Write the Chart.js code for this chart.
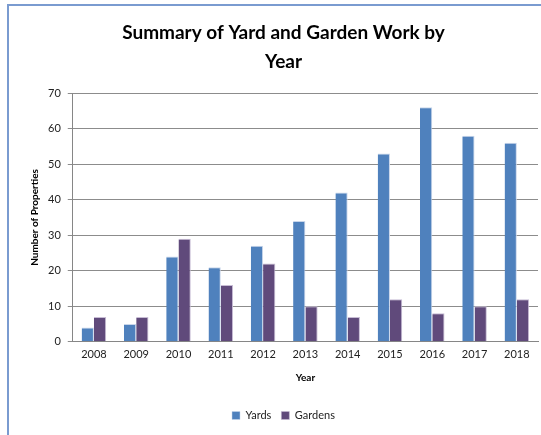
<!DOCTYPE html>
<html>
<head>
<meta charset="utf-8">
<script src="https://cdn.jsdelivr.net/npm/chart.js@4"></script>
<style>
  html, body { margin: 0; padding: 0; background: #fff; }
  #wrap { position: relative; width: 541px; height: 435px; overflow: hidden; }
  #frame { position: absolute; left: 7px; top: 4px; width: 560px; height: 460px; border: 2px solid #7a9bd0; box-sizing: border-box; }
  canvas { position: absolute; left: 0; top: 0; }
</style>
</head>
<body>
<div id="wrap">
  <div id="frame"></div>
  <canvas id="c" width="541" height="435"></canvas>
</div>
<script>
const years = ['2008','2009','2010','2011','2012','2013','2014','2015','2016','2017','2018']
const yards = [4,5,24,21,27,34,42,53,66,58,56]
const gardens = [7,7,29,16,22,10,7,12,8,10,12]

const FONT = 'Lato, "Open Sans", sans-serif'
Chart.defaults.font.family = FONT
Chart.defaults.color = '#222'

new Chart(document.getElementById('c'), {
  type: 'bar',
  data: {
    labels: years,
    datasets: [
      { label: 'Yards', data: yards, backgroundColor: '#4f81bd', borderColor: '#c9d6ea', borderWidth: { top: 1, right: 1, left: 0, bottom: 0 } },
      { label: 'Gardens', data: gardens, backgroundColor: '#604a7b', borderColor: '#c7bcd4', borderWidth: { top: 1, right: 1, left: 0, bottom: 0 } },
    ],
  },
  options: {
    responsive: false, animation: false,
    layout: { padding: { left: 29, right: 3, top: 10, bottom: 4 } },
    datasets: { bar: { categoryPercentage: 0.58, barPercentage: 1 } },
    plugins: {
      title: { display: true, text: ['Summary of Yard and Garden Work by', 'Year'], color: '#000', font: { size: 19, weight: 'bold', lineHeight: 1.5 }, padding: { top: 9, bottom: 17 } },
      legend: { position: 'bottom', labels: { boxWidth: 8, boxHeight: 8, font: { size: 11 }, color: '#222', padding: 10 } },
      tooltip: { enabled: false },
    },
    scales: {
      x: {
        grid: { display: false, drawTicks: false },
        border: { color: '#868686', width: 1 },
        ticks: { font: { size: 11 }, color: '#222', padding: 6 },
        title: { display: true, text: 'Year', font: { size: 10, weight: 'bold' }, color: '#000', padding: { top: 5, bottom: 16 } },
      },
      y: {
        min: 0, max: 70,
        grid: { color: '#8c8c8c', tickLength: 5 },
        border: { color: '#868686', width: 1 },
        ticks: { stepSize: 10, font: { size: 11 }, color: '#222', padding: 7 },
        title: { display: true, text: 'Number of Properties', font: { size: 10, weight: 'bold' }, color: '#000', padding: 0 },
      },
    },
  },
})
</script>
</body>
</html>
